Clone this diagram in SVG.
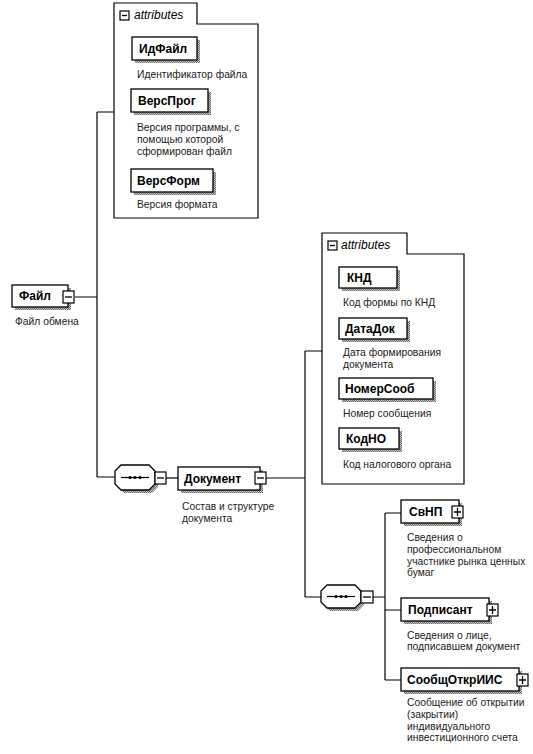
<svg xmlns="http://www.w3.org/2000/svg" width="533" height="754" viewBox="0 0 533 754">
<defs>
<pattern id="hatch" width="2" height="2" patternUnits="userSpaceOnUse">
<rect width="2" height="2" fill="#c8c8c8"/>
<rect width="1" height="1" fill="#6a6a6a"/>
<rect x="1" y="1" width="1" height="1" fill="#6a6a6a"/>
</pattern>
</defs>
<style>
.box{fill:#fff;stroke:#000;stroke-width:1.3}
.sh{fill:url(#hatch)}
.panel{fill:#fff;stroke:#000;stroke-width:1.2}
.name{font-family:"Liberation Sans",Arial,sans-serif;font-weight:bold;font-size:12px;fill:#000}
.desc{font-family:"Liberation Sans",Arial,sans-serif;font-size:10.3px;fill:#222}
.ital{font-family:"Liberation Sans",Arial,sans-serif;font-style:italic;font-size:12px;fill:#000}
.tog{fill:#fff;stroke:#000;stroke-width:1.2}
.sign{stroke:#000;stroke-width:1.3;fill:none}
.con{stroke:#000;stroke-width:1.2;fill:none}
</style>
<rect width="533" height="754" fill="#fff"/>

<g id="connectors">
<path class="con" d="M75,297 H97 M97,112 V477 M97,112 H114 M97,477 H115"/>
<path class="con" d="M166,478 H178"/>
<path class="con" d="M265,478 H305 M305,351 V597 M305,351 H322 M305,597 H321"/>
<path class="con" d="M373,597 H385 M385,513 V680 M385,513 H401 M385,610 H401 M385,680 H401"/>
</g>

<g id="attributes1">
<path class="panel" d="M114,218 V3 H197 V24 H258 V218 Z"/>
<rect class="tog" x="120" y="11" width="9" height="9"/>
<path class="sign" d="M122,15.5 H127"/>
<text class="ital" x="134" y="19">attributes</text>
</g>

<g id="ИдФайл">
<rect class="sh" x="135" y="40" width="65" height="23"/>
<rect class="box" x="132" y="37" width="65" height="23"/>
<text class="name" x="139" y="53">ИдФайл</text>
<text class="desc" x="137" y="78">Идентификатор файла</text>
</g>

<g id="ВерсПрог">
<rect class="sh" x="134" y="92" width="77" height="23"/>
<rect class="box" x="131" y="89" width="77" height="23"/>
<text class="name" x="138" y="105">ВерсПрог</text>
<text class="desc" x="137" y="131">Версия программы, с</text>
<text class="desc" x="137" y="143">помощью которой</text>
<text class="desc" x="137" y="155">сформирован файл</text>
</g>

<g id="ВерсФорм">
<rect class="sh" x="134" y="172" width="82" height="23"/>
<rect class="box" x="131" y="169" width="82" height="23"/>
<text class="name" x="137" y="185">ВерсФорм</text>
<text class="desc" x="137" y="208">Версия формата</text>
</g>

<g id="Файл">
<rect class="sh" x="15" y="288" width="56" height="22"/>
<rect class="box" x="12" y="285" width="56" height="22"/>
<text class="name" x="19" y="300">Файл</text>
<rect class="tog" x="63" y="291" width="11" height="12"/>
<path class="sign" d="M65,297 H72"/>
<text class="desc" x="15" y="325">Файл обмена</text>
</g>

<g id="sequence1">
<path class="sh" d="M124,468 H152 L158,474 V487 L152,493 H124 L118,487 V474 Z"/>
<path class="box" d="M121,465 H149 L155,471 V484 L149,490 H121 L115,484 V471 Z"/>
<path class="con" d="M121,477.5 H149"/>
<circle cx="130" cy="477.5" r="1.6"/>
<circle cx="135" cy="477.5" r="1.6"/>
<circle cx="140" cy="477.5" r="1.6"/>
<rect class="tog" x="155" y="472" width="11" height="12"/>
<path class="sign" d="M157,478 H164"/>
</g>

<g id="Документ">
<rect class="sh" x="181" y="470" width="82" height="23"/>
<rect class="box" x="178" y="467" width="82" height="23"/>
<text class="name" x="184" y="483">Документ</text>
<rect class="tog" x="255" y="472" width="11" height="12"/>
<path class="sign" d="M257,478 H264"/>
<text class="desc" x="182" y="510">Состав и структуре</text>
<text class="desc" x="182" y="522">документа</text>
</g>

<g id="attributes2">
<path class="panel" d="M322,484 V233 H407 V254 H464 V484 Z"/>
<rect class="tog" x="328" y="241" width="9" height="9"/>
<path class="sign" d="M330,245.5 H335"/>
<text class="ital" x="341" y="249">attributes</text>
</g>

<g id="КНД">
<rect class="sh" x="342" y="270" width="58" height="21"/>
<rect class="box" x="339" y="267" width="58" height="21"/>
<text class="name" x="347" y="282">КНД</text>
<text class="desc" x="343" y="306">Код формы по КНД</text>
</g>

<g id="ДатаДок">
<rect class="sh" x="342" y="321" width="68" height="21"/>
<rect class="box" x="339" y="318" width="68" height="21"/>
<text class="name" x="345" y="333">ДатаДок</text>
<text class="desc" x="343" y="356">Дата формирования</text>
<text class="desc" x="343" y="368">документа</text>
</g>

<g id="НомерСооб">
<rect class="sh" x="342" y="381" width="94" height="21"/>
<rect class="box" x="339" y="378" width="94" height="21"/>
<text class="name" x="345" y="393">НомерСооб</text>
<text class="desc" x="343" y="417">Номер сообщения</text>
</g>

<g id="КодНО">
<rect class="sh" x="342" y="431" width="60" height="21"/>
<rect class="box" x="339" y="428" width="60" height="21"/>
<text class="name" x="346" y="443">КодНО</text>
<text class="desc" x="343" y="468">Код налогового органа</text>
</g>

<g id="sequence2">
<path class="sh" d="M330,588 H358 L364,594 V605 L358,611 H330 L324,605 V594 Z"/>
<path class="box" d="M327,585 H355 L361,591 V602 L355,608 H327 L321,602 V591 Z"/>
<path class="con" d="M327,596.5 H355"/>
<circle cx="336" cy="596.5" r="1.6"/>
<circle cx="341" cy="596.5" r="1.6"/>
<circle cx="346" cy="596.5" r="1.6"/>
<rect class="tog" x="361" y="591" width="12" height="12"/>
<path class="sign" d="M363,597 H371"/>
</g>

<g id="СвНП">
<rect class="sh" x="404" y="503" width="58" height="23"/>
<rect class="box" x="401" y="500" width="58" height="23"/>
<text class="name" x="409" y="516">СвНП</text>
<rect class="tog" x="452" y="506" width="11" height="12"/>
<path class="sign" d="M454,512 H461 M457.5,508 V516"/>
<text class="desc" x="407" y="541">Сведения о</text>
<text class="desc" x="407" y="553">профессиональном</text>
<text class="desc" x="407" y="565">участнике рынка ценных</text>
<text class="desc" x="407" y="576">бумаг</text>
</g>

<g id="Подписант">
<rect class="sh" x="404" y="601" width="88" height="23"/>
<rect class="box" x="401" y="598" width="88" height="23"/>
<text class="name" x="408" y="614">Подписант</text>
<rect class="tog" x="487" y="604" width="11" height="12"/>
<path class="sign" d="M489,610 H496 M492.5,606 V614"/>
<text class="desc" x="407" y="639">Сведения о лице,</text>
<text class="desc" x="407" y="650">подписавшем документ</text>
</g>

<g id="СообщОткрИИС">
<rect class="sh" x="404" y="671" width="118" height="23"/>
<rect class="box" x="401" y="668" width="118" height="23"/>
<text class="name" x="407" y="684">СообщОткрИИС</text>
<rect class="tog" x="517" y="674" width="11" height="12"/>
<path class="sign" d="M519,680 H526 M522.5,676 V684"/>
<text class="desc" x="407" y="706">Сообщение об открытии</text>
<text class="desc" x="407" y="718">(закрытии)</text>
<text class="desc" x="407" y="730">индивидуального</text>
<text class="desc" x="407" y="741">инвестиционного счета</text>
</g>
</svg>
